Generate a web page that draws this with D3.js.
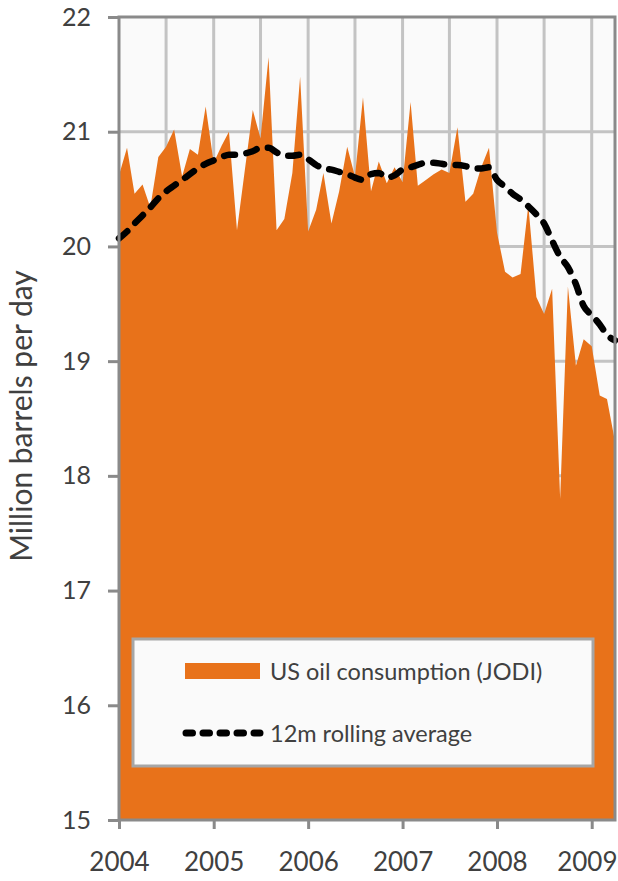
<!DOCTYPE html>
<html>
<head>
<meta charset="utf-8">
<script src="https://cdn.jsdelivr.net/npm/d3@7"></script>
<style>
  html, body { margin: 0; padding: 0; background: #ffffff; }
  svg { display: block; }
  text { font-family: Lato, "Open Sans", sans-serif; fill: #404040; }
</style>
</head>
<body>
<svg id="chart" width="618" height="881"></svg>
<script>
// ---- Data ----
const startMonth = "2004-01";
const endMonth = "2009-04";
// Monthly US oil consumption (JODI), million barrels per day, Jan 2004 .. Apr 2009
const consumption = [
  20.62, 20.86, 20.46, 20.54, 20.34, 20.78, 20.87, 21.02, 20.61, 20.85, 20.80, 21.22,
  20.73, 20.88, 21.00, 20.14, 20.66, 21.19, 20.94, 21.65, 20.14, 20.24, 20.64, 21.48,
  20.13, 20.32, 20.64, 20.20, 20.48, 20.87, 20.61, 21.30, 20.48, 20.74, 20.55, 20.69,
  20.56, 21.26, 20.53, 20.58, 20.63, 20.67, 20.64, 21.04, 20.39, 20.46, 20.69, 20.86,
  20.12, 19.78, 19.73, 19.76, 20.36, 19.56, 19.41, 19.63, 17.80, 19.65, 18.96, 19.19,
  19.13, 18.70, 18.67, 18.30
];
// 12-month rolling average as drawn in the reference
const rolling = [
  20.07, 20.13, 20.20, 20.27, 20.34, 20.42, 20.48, 20.53, 20.58, 20.63, 20.68, 20.72,
  20.75, 20.78, 20.80, 20.80, 20.81, 20.83, 20.86, 20.86, 20.82, 20.79, 20.79, 20.80,
  20.76, 20.71, 20.68, 20.67, 20.65, 20.63, 20.60, 20.58, 20.63, 20.64, 20.60, 20.62,
  20.67, 20.69, 20.71, 20.73, 20.73, 20.72, 20.71, 20.71, 20.70, 20.68, 20.68, 20.69,
  20.58, 20.52, 20.46, 20.41, 20.35, 20.28, 20.20, 20.05, 19.91, 19.82, 19.67, 19.48,
  19.40, 19.32, 19.23, 19.18
];
const yTicks = [15, 16, 17, 18, 19, 20, 21, 22];
const yearLabels = ["2004", "2005", "2006", "2007", "2008", "2009"];
const seriesNames = ["US oil consumption (JODI)", "12m rolling average"];
const yTitle = "Million barrels per day";

// ---- Layout ----
const svg = d3.select("#chart");
const pL = 119, pR = 615, pT = 17, pB = 820;
const parseM = d3.timeParse("%Y-%m");
const months = d3.timeMonth.range(parseM(startMonth), d3.timeMonth.offset(parseM(endMonth), 1));
const rows = months.map((d, i) => ({ date: d, v: consumption[i], r: rolling[i] }));

const x = d3.scaleTime().domain([parseM(startMonth), parseM(endMonth)]).range([pL, pR]);
const y = d3.scaleLinear().domain([15, 22]).range([pB, pT]);

const orange = "#E8721A";
const gridCol = "#c3c3c3";
const axisCol = "#8a8a8a";

// plot background
svg.append("rect").attr("x", pL).attr("y", pT)
  .attr("width", pR - pL).attr("height", pB - pT).attr("fill", "#fafafa");

// gridlines
const g = svg.append("g");
g.selectAll("line.h").data(yTicks.filter(t => t > 15 && t < 22)).join("line")
  .attr("x1", pL).attr("x2", pR)
  .attr("y1", d => y(d)).attr("y2", d => y(d))
  .attr("stroke", gridCol).attr("stroke-width", 3);
const vGrid = d3.timeMonth.every(6).range(parseM(startMonth), parseM(endMonth))
  .filter(d => d > parseM(startMonth));
g.selectAll("line.v").data(vGrid).join("line")
  .attr("x1", d => x(d)).attr("x2", d => x(d))
  .attr("y1", pT).attr("y2", pB)
  .attr("stroke", gridCol).attr("stroke-width", 3);

// area
const area = d3.area().x(d => x(d.date)).y0(y(15)).y1(d => y(d.v));
svg.append("path").datum(rows).attr("d", area).attr("fill", orange);

// rolling line
const line = d3.line().x(d => x(d.date)).y(d => y(d.r)).curve(d3.curveMonotoneX);
svg.append("path").datum(rows).attr("d", line)
  .attr("fill", "none").attr("stroke", "#000").attr("stroke-width", 6.5)
  .attr("stroke-dasharray", "11,11.5").attr("stroke-linecap", "round");

// frame
svg.append("rect").attr("x", pL).attr("y", pT)
  .attr("width", pR - pL).attr("height", pB - pT)
  .attr("fill", "none").attr("stroke", axisCol).attr("stroke-width", 3);

// y axis
const yAxis = d3.axisLeft(y).tickValues(yTicks).tickSize(11).tickPadding(17).tickFormat(d3.format("d"));
const ya = svg.append("g").attr("transform", `translate(${pL},0)`).call(yAxis);
ya.select(".domain").remove();
ya.selectAll(".tick line").attr("stroke", axisCol).attr("stroke-width", 3);
ya.selectAll(".tick text").attr("font-size", 25).attr("fill", "#404040")
  .attr("font-family", "Lato, sans-serif");

// x axis
const yearDates = yearLabels.map(s => d3.timeParse("%Y")(s));
const xAxis = d3.axisBottom(x).tickValues(yearDates).tickSize(9).tickPadding(24)
  .tickFormat((d, i) => yearLabels[i]);
const xa = svg.append("g").attr("transform", `translate(0,${pB})`).call(xAxis);
xa.select(".domain").remove();
xa.selectAll(".tick line").attr("stroke", axisCol).attr("stroke-width", 3);
xa.selectAll(".tick text").attr("font-size", 26).attr("fill", "#404040")
  .attr("font-family", "Lato, sans-serif");
// last label sits at the right edge (the reference clips it there)
xa.selectAll(".tick text").filter((d, i) => i === yearLabels.length - 1)
  .attr("text-anchor", "end").attr("x", 617 - x(yearDates[yearDates.length - 1]));

// y title
svg.append("text").attr("transform", "translate(32,416) rotate(-90)")
  .attr("text-anchor", "middle").attr("font-size", 30).text(yTitle);

// legend
const lg = svg.append("g");
lg.append("rect").attr("x", 133).attr("y", 639).attr("width", 460).attr("height", 127)
  .attr("fill", "#fafafa").attr("stroke", "#a6a6a6").attr("stroke-width", 3);
lg.append("rect").attr("x", 185).attr("y", 663).attr("width", 75).attr("height", 16).attr("fill", orange);
lg.append("text").attr("x", 270).attr("y", 680).attr("font-size", 23.5).text(seriesNames[0]);
lg.append("line").attr("x1", 186).attr("x2", 260).attr("y1", 733).attr("y2", 733)
  .attr("stroke", "#000").attr("stroke-width", 7)
  .attr("stroke-dasharray", "6.5,10.5").attr("stroke-linecap", "round");
lg.append("text").attr("x", 270).attr("y", 742).attr("font-size", 23.5).text(seriesNames[1]);
</script>
</body>
</html>
